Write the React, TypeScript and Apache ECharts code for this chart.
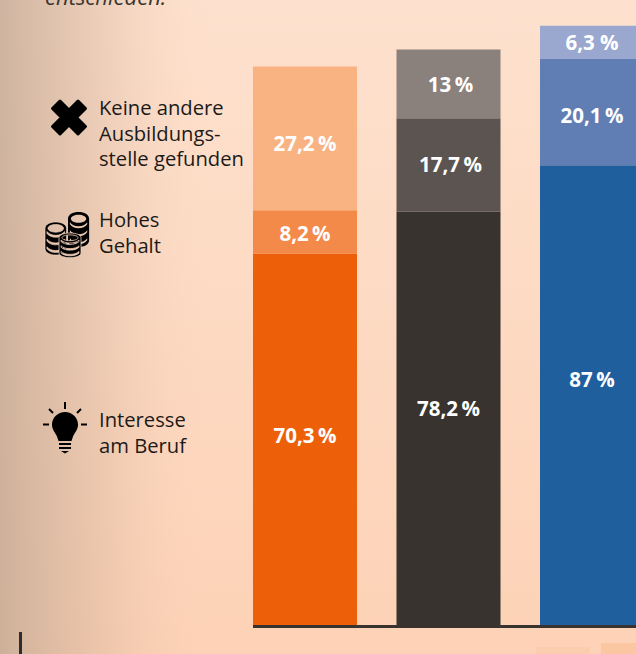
import React, { useEffect, useRef } from "react";
import * as echarts from "echarts";

const categories = ["A", "B", "C"];
const interesse = [70.3, 78.2, 87];
const gehalt = [8.2, 17.7, 20.1];
const keine = [27.2, 13, 6.3];
const interesseLabels = ["70,3\u2009%", "78,2\u2009%", "87\u2009%"];
const gehaltLabels = ["8,2\u2009%", "17,7\u2009%", "20,1\u2009%"];
const keineLabels = ["27,2\u2009%", "13\u2009%", "6,3\u00a0%"];
const interesseColors = ["#ee5f0a", "#38332f", "#1f5f9e"];
const gehaltColors = ["#f48a4a", "#5c5450", "#617eb4"];
const keineColors = ["#f9b383", "#8a807c", "#9aa8cf"];

const interesseOffsets = [[0, -4], [0, -10], [0, -16]];
const gehaltOffsets = [[0, 1], [2, -1], [0, 3]];
const keineOffsets = [[0, 5], [2, 0], [0, 0]];

const X_PATH = "M9 1.5 L18 10.5 L27 1.5 L34.5 9 L25.5 18 L34.5 27 L27 34.5 L18 25.5 L9 34.5 L1.5 27 L10.5 18 L1.5 9 Z";
const BULB_PATH = "M13 0 C5.8 0 0 5.6 0 12.6 C0 18 3.2 20.6 5 24.5 L6.5 29 L19.5 29 L21 24.5 C22.8 20.6 26 18 26 12.6 C26 5.6 20.2 0 13 0 Z M7 31 H19 V33 H7 Z M7 35 H19 V37 H7 Z M9 39 H17 L13 41.5 Z";
const COIN_PATH = "M11 0 C17 0 22 2 22 5 V21 C22 24 17 26 11 26 C5 26 0 24 0 21 V5 C0 2 5 0 11 0 Z M2 9 C4 11 7 12 11 12 C15 12 18 11 20 9 V7.5 C18 9.5 15 10.5 11 10.5 C7 10.5 4 9.5 2 7.5 Z M2 15 C4 17 7 18 11 18 C15 18 18 17 20 15 V13.5 C18 15.5 15 16.5 11 16.5 C7 16.5 4 15.5 2 13.5 Z M2 21 C4 23 7 24 11 24 C15 24 18 23 20 21 V19.5 C18 21.5 15 22.5 11 22.5 C7 22.5 4 21.5 2 19.5 Z M11 2 C6.5 2 3 3.3 3 5 C3 6.7 6.5 8 11 8 C15.5 8 19 6.7 19 5 C19 3.3 15.5 2 11 2 Z";

function mkShape(name: string, d: string) {
  echarts.graphic.registerShape(name, echarts.graphic.extendPath(d as any, {}) as any);
}
mkShape("xicon", X_PATH);
mkShape("bulbicon", BULB_PATH);
mkShape("coinicon", COIN_PATH);

const font = "'Open Sans', 'Noto Sans', sans-serif";

function labelled(values: number[], labels: string[], colors: string[], offsets: number[][], name: string) {
  return {
    type: "bar",
    name,
    stack: "s",
    barWidth: 104,
    data: values.map((v, i) => ({
      value: v,
      itemStyle: { color: colors[i] },
      label: { offset: offsets[i] },
    })),
    label: {
      show: true,
      position: "inside",
      color: "#fff",
      fontFamily: font,
      fontWeight: "bold",
      fontSize: 20.5,
      formatter: (p: any) => labels[p.dataIndex],
    },
  };
}

function textBlock(x: number, y: number, lines: string[]) {
  return lines.map((t, i) => ({
    type: "text",
    x,
    y: y + i * 25.5,
    z: 5,
    style: { text: t, fill: "#1c1a18", font: `20.2px ${font}`, textVerticalAlign: "middle" },
  }));
}

export default function App() {
  const ref = useRef<HTMLDivElement>(null);
  useEffect(() => {
    document.body.style.margin = "0";
    document.body.style.overflow = "hidden";
    const chart = echarts.init(ref.current!, null, { renderer: "svg" });
    chart.setOption({
      animation: false,
      grid: { left: 233.25, width: 430.5, top: 1.4, height: 623.6 },
      xAxis: { type: "category", data: categories, show: false },
      yAxis: { type: "value", min: 0, max: 118, show: false },
      graphic: [
        {
          type: "rect", z: -10, silent: true, shape: { x: 0, y: 0, width: 636, height: 654 },
          style: { fill: new echarts.graphic.LinearGradient(0, 0, 0, 1, [
            { offset: 0, color: "#fde1ce" }, { offset: 1, color: "#fdd2b6" },
          ]) },
        },
        {
          type: "rect", z: -9, silent: true, shape: { x: 0, y: 0, width: 210, height: 654 },
          style: { fill: new echarts.graphic.LinearGradient(0, 0, 1, 0, [
            { offset: 0, color: "rgba(190,165,145,0.75)" },
            { offset: 0.5, color: "rgba(205,172,148,0.32)" },
            { offset: 1, color: "rgba(253,215,190,0)" },
          ]) },
        },
        { type: "rect", z: -8, shape: { x: 536, y: 647, width: 54, height: 7 }, style: { fill: "#fcccae" } },
        { type: "rect", z: -8, shape: { x: 601, y: 643, width: 35, height: 11 }, style: { fill: "#fbc6a2" } },
        { type: "rect", z: 5, shape: { x: 19, y: 632, width: 3, height: 22 }, style: { fill: "#2a2d33" } },
        { type: "rect", z: 5, shape: { x: 253, y: 625, width: 383, height: 3 }, style: { fill: "#38332f" } },
        { type: "text", x: 45, y: -4, z: 5, style: { text: "entschieden.", fill: "#3a3532", font: `italic 22px ${font}`, textVerticalAlign: "middle" } },
        ...textBlock(99, 107, ["Keine andere", "Ausbildungs-", "stelle gefunden"]),
        ...textBlock(99, 219, ["Hohes", "Gehalt"]),
        ...textBlock(99, 419, ["Interesse", "am Beruf"]),
        { type: "xicon", x: 51, y: 99.5, z: 5, style: { fill: "#000", stroke: "#000", lineWidth: 3, lineJoin: "round" } },
        { type: "coinicon", x: 68, y: 212, scaleX: 0.96, scaleY: 1.35, z: 5, style: { fill: "#000" } },
        { type: "coinicon", x: 45, y: 222, scaleX: 0.98, scaleY: 1.27, z: 6, style: { fill: "#000", stroke: "#f5d5bf", lineWidth: 0.6 } },
        { type: "coinicon", x: 59, y: 233, scaleX: 1, scaleY: 0.95, z: 7, style: { fill: "#000", stroke: "#f5d5bf", lineWidth: 0.8 } },
        { type: "bulbicon", x: 52, y: 412, z: 5, style: { fill: "#000" } },
        { type: "rect", z: 5, shape: { x: 64, y: 402, width: 2, height: 7 }, style: { fill: "#000" } },
        { type: "rect", z: 5, shape: { x: 43, y: 423.5, width: 6, height: 2 }, style: { fill: "#000" } },
        { type: "rect", z: 5, shape: { x: 81, y: 423.5, width: 6, height: 2 }, style: { fill: "#000" } },
        { type: "line", z: 5, shape: { x1: 49, y1: 409, x2: 53, y2: 413 }, style: { stroke: "#000", lineWidth: 2 } },
        { type: "line", z: 5, shape: { x1: 81, y1: 409, x2: 77, y2: 413 }, style: { stroke: "#000", lineWidth: 2 } },
      ],
      series: [
        labelled(interesse, interesseLabels, interesseColors, interesseOffsets, "Interesse am Beruf"),
        labelled(gehalt, gehaltLabels, gehaltColors, gehaltOffsets, "Hohes Gehalt"),
        labelled(keine, keineLabels, keineColors, keineOffsets, "Keine andere Ausbildungsstelle gefunden"),
      ],
    });
    return () => chart.dispose();
  }, []);
  return (
    <div style={{ position: "absolute", left: 0, top: 0, width: 636, height: 654, overflow: "hidden" }}>
      <div ref={ref} style={{ width: 700, height: 654 }} />
    </div>
  );
}
